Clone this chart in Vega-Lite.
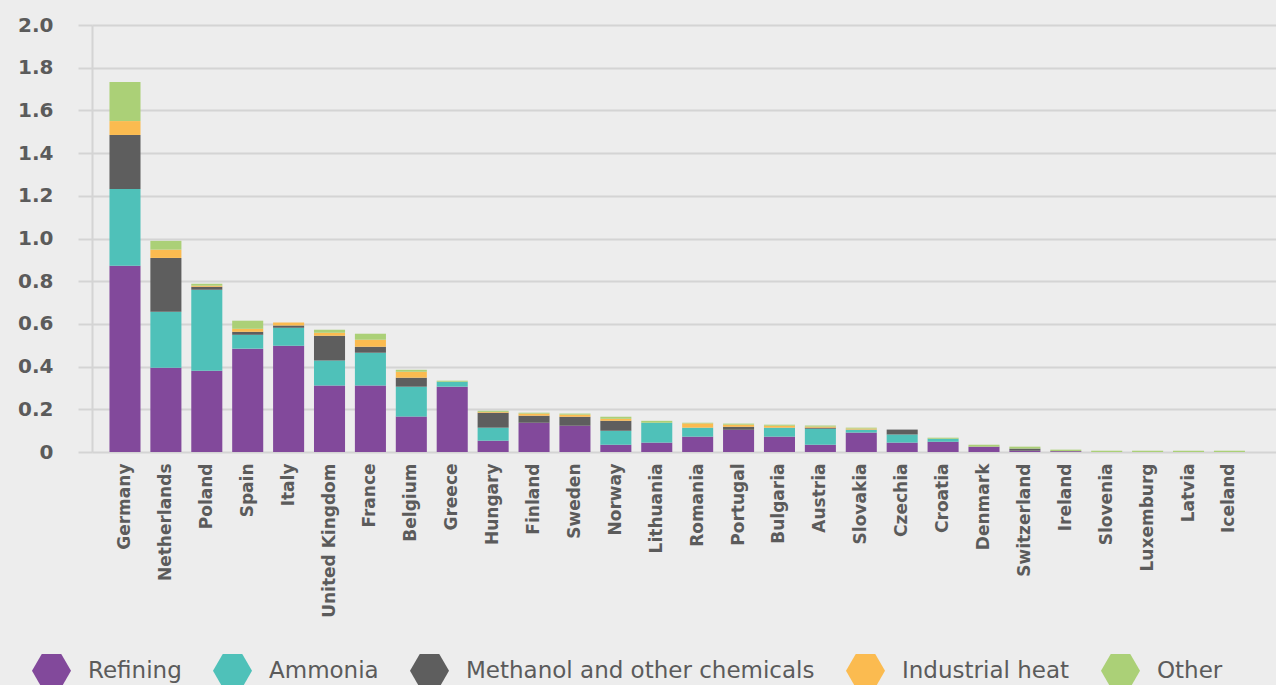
{
  "$schema": "https://vega.github.io/schema/vega-lite/v6.json",
  "width": 1184,
  "height": 427,
  "autosize": "none",
  "padding": {"left": 92, "top": 25, "right": 0, "bottom": 233},
  "background": "#EDEDED",
  "config": {"view": {"stroke": null}},
  "data": {"values": [
    {"country": "Germany", "use": "Refining", "value": 0.872},
    {"country": "Germany", "use": "Ammonia", "value": 0.360},
    {"country": "Germany", "use": "Methanol and other chemicals", "value": 0.253},
    {"country": "Germany", "use": "Industrial heat", "value": 0.065},
    {"country": "Germany", "use": "Other", "value": 0.183},
    {"country": "Netherlands", "use": "Refining", "value": 0.395},
    {"country": "Netherlands", "use": "Ammonia", "value": 0.262},
    {"country": "Netherlands", "use": "Methanol and other chemicals", "value": 0.252},
    {"country": "Netherlands", "use": "Industrial heat", "value": 0.039},
    {"country": "Netherlands", "use": "Other", "value": 0.041},
    {"country": "Poland", "use": "Refining", "value": 0.381},
    {"country": "Poland", "use": "Ammonia", "value": 0.379},
    {"country": "Poland", "use": "Methanol and other chemicals", "value": 0.014},
    {"country": "Poland", "use": "Industrial heat", "value": 0.005},
    {"country": "Poland", "use": "Other", "value": 0.009},
    {"country": "Spain", "use": "Refining", "value": 0.484},
    {"country": "Spain", "use": "Ammonia", "value": 0.065},
    {"country": "Spain", "use": "Methanol and other chemicals", "value": 0.014},
    {"country": "Spain", "use": "Industrial heat", "value": 0.014},
    {"country": "Spain", "use": "Other", "value": 0.038},
    {"country": "Italy", "use": "Refining", "value": 0.498},
    {"country": "Italy", "use": "Ammonia", "value": 0.084},
    {"country": "Italy", "use": "Methanol and other chemicals", "value": 0.010},
    {"country": "Italy", "use": "Industrial heat", "value": 0.014},
    {"country": "United Kingdom", "use": "Refining", "value": 0.311},
    {"country": "United Kingdom", "use": "Ammonia", "value": 0.117},
    {"country": "United Kingdom", "use": "Methanol and other chemicals", "value": 0.117},
    {"country": "United Kingdom", "use": "Industrial heat", "value": 0.014},
    {"country": "United Kingdom", "use": "Other", "value": 0.014},
    {"country": "France", "use": "Refining", "value": 0.311},
    {"country": "France", "use": "Ammonia", "value": 0.154},
    {"country": "France", "use": "Methanol and other chemicals", "value": 0.028},
    {"country": "France", "use": "Industrial heat", "value": 0.033},
    {"country": "France", "use": "Other", "value": 0.028},
    {"country": "Belgium", "use": "Refining", "value": 0.166},
    {"country": "Belgium", "use": "Ammonia", "value": 0.140},
    {"country": "Belgium", "use": "Methanol and other chemicals", "value": 0.042},
    {"country": "Belgium", "use": "Industrial heat", "value": 0.028},
    {"country": "Belgium", "use": "Other", "value": 0.009},
    {"country": "Greece", "use": "Refining", "value": 0.306},
    {"country": "Greece", "use": "Ammonia", "value": 0.023},
    {"country": "Greece", "use": "Other", "value": 0.005},
    {"country": "Hungary", "use": "Refining", "value": 0.053},
    {"country": "Hungary", "use": "Ammonia", "value": 0.061},
    {"country": "Hungary", "use": "Methanol and other chemicals", "value": 0.070},
    {"country": "Hungary", "use": "Industrial heat", "value": 0.004},
    {"country": "Hungary", "use": "Other", "value": 0.005},
    {"country": "Finland", "use": "Refining", "value": 0.137},
    {"country": "Finland", "use": "Methanol and other chemicals", "value": 0.033},
    {"country": "Finland", "use": "Industrial heat", "value": 0.010},
    {"country": "Finland", "use": "Other", "value": 0.004},
    {"country": "Sweden", "use": "Refining", "value": 0.123},
    {"country": "Sweden", "use": "Methanol and other chemicals", "value": 0.042},
    {"country": "Sweden", "use": "Industrial heat", "value": 0.010},
    {"country": "Sweden", "use": "Other", "value": 0.005},
    {"country": "Norway", "use": "Refining", "value": 0.034},
    {"country": "Norway", "use": "Ammonia", "value": 0.066},
    {"country": "Norway", "use": "Methanol and other chemicals", "value": 0.046},
    {"country": "Norway", "use": "Industrial heat", "value": 0.010},
    {"country": "Norway", "use": "Other", "value": 0.009},
    {"country": "Lithuania", "use": "Refining", "value": 0.044},
    {"country": "Lithuania", "use": "Ammonia", "value": 0.093},
    {"country": "Lithuania", "use": "Other", "value": 0.009},
    {"country": "Romania", "use": "Refining", "value": 0.072},
    {"country": "Romania", "use": "Ammonia", "value": 0.042},
    {"country": "Romania", "use": "Industrial heat", "value": 0.020},
    {"country": "Romania", "use": "Other", "value": 0.003},
    {"country": "Portugal", "use": "Refining", "value": 0.104},
    {"country": "Portugal", "use": "Methanol and other chemicals", "value": 0.014},
    {"country": "Portugal", "use": "Industrial heat", "value": 0.010},
    {"country": "Portugal", "use": "Other", "value": 0.005},
    {"country": "Bulgaria", "use": "Refining", "value": 0.072},
    {"country": "Bulgaria", "use": "Ammonia", "value": 0.042},
    {"country": "Bulgaria", "use": "Industrial heat", "value": 0.009},
    {"country": "Bulgaria", "use": "Other", "value": 0.005},
    {"country": "Austria", "use": "Refining", "value": 0.034},
    {"country": "Austria", "use": "Ammonia", "value": 0.075},
    {"country": "Austria", "use": "Methanol and other chemicals", "value": 0.005},
    {"country": "Austria", "use": "Industrial heat", "value": 0.005},
    {"country": "Austria", "use": "Other", "value": 0.005},
    {"country": "Slovakia", "use": "Refining", "value": 0.091},
    {"country": "Slovakia", "use": "Ammonia", "value": 0.014},
    {"country": "Slovakia", "use": "Industrial heat", "value": 0.005},
    {"country": "Slovakia", "use": "Other", "value": 0.004},
    {"country": "Czechia", "use": "Refining", "value": 0.044},
    {"country": "Czechia", "use": "Ammonia", "value": 0.038},
    {"country": "Czechia", "use": "Methanol and other chemicals", "value": 0.023},
    {"country": "Croatia", "use": "Refining", "value": 0.048},
    {"country": "Croatia", "use": "Ammonia", "value": 0.014},
    {"country": "Croatia", "use": "Other", "value": 0.005},
    {"country": "Denmark", "use": "Refining", "value": 0.025},
    {"country": "Denmark", "use": "Other", "value": 0.009},
    {"country": "Switzerland", "use": "Refining", "value": 0.006},
    {"country": "Switzerland", "use": "Methanol and other chemicals", "value": 0.010},
    {"country": "Switzerland", "use": "Other", "value": 0.009},
    {"country": "Ireland", "use": "Refining", "value": 0.004},
    {"country": "Ireland", "use": "Other", "value": 0.007},
    {"country": "Slovenia", "use": "Other", "value": 0.006},
    {"country": "Luxemburg", "use": "Other", "value": 0.006},
    {"country": "Latvia", "use": "Other", "value": 0.006},
    {"country": "Iceland", "use": "Other", "value": 0.006}
  ]},
  "transform": [
    {"calculate": "indexof(['Refining', 'Ammonia', 'Methanol and other chemicals', 'Industrial heat', 'Other'], datum.use)", "as": "stackOrder"}
  ],
  "mark": {"type": "bar"},
  "encoding": {
    "x": {
      "field": "country",
      "type": "nominal",
      "sort": null,
      "scale": {"paddingInner": 0.241, "paddingOuter": 0.593, "align": 0.36},
      "axis": {
        "title": null,
        "labelAngle": -90,
        "labelFont": "DejaVu Sans",
        "labelFontWeight": "bold",
        "labelFontSize": 17,
        "labelColor": "#5b5b5b",
        "labelPadding": 11,
        "ticks": false,
        "domain": false
      }
    },
    "y": {
      "field": "value",
      "type": "quantitative",
      "stack": "zero",
      "scale": {"domain": [0, 2], "nice": false},
      "axis": {
        "title": null,
        "values": [0, 0.2, 0.4, 0.6, 0.8, 1.0, 1.2, 1.4, 1.6, 1.8, 2.0],
        "labelExpr": "datum.value == 0 ? '0' : format(datum.value, '.1f')",
        "labelFont": "DejaVu Sans",
        "labelFontWeight": "bold",
        "labelFontSize": 20,
        "labelColor": "#5b5b5b",
        "labelPadding": 25,
        "grid": true,
        "gridColor": "#d4d4d4",
        "gridWidth": 2,
        "ticks": true,
        "tickSize": 14,
        "tickColor": "#d4d4d4",
        "tickWidth": 2,
        "domain": true,
        "domainColor": "#d4d4d4",
        "domainWidth": 2
      }
    },
    "color": {
      "field": "use",
      "type": "nominal",
      "sort": ["Refining", "Ammonia", "Methanol and other chemicals", "Industrial heat", "Other"],
      "scale": {
        "domain": ["Refining", "Ammonia", "Methanol and other chemicals", "Industrial heat", "Other"],
        "range": ["#82499B", "#4FC1B9", "#5E5E5E", "#FBBB50", "#ABD077"]
      },
      "legend": {
        "title": null,
        "orient": "none",
        "legendX": -60,
        "legendY": 626,
        "direction": "horizontal",
        "padding": 0,
        "symbolType": "M-1,0L-0.5,-0.866L0.5,-0.866L1,0L0.5,0.866L-0.5,0.866Z",
        "symbolSize": 1521,
        "symbolStrokeWidth": 0,
        "symbolOpacity": 1,
        "labelFont": "DejaVu Sans",
        "labelFontSize": 23,
        "labelColor": "#5b5b5b",
        "labelOffset": 17,
        "labelLimit": 600,
        "columnPadding": 31
      }
    },
    "order": {"field": "stackOrder", "type": "quantitative", "sort": "ascending"}
  }
}
